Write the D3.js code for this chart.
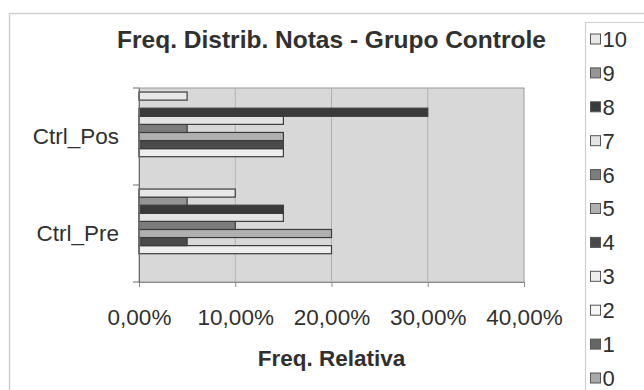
<!DOCTYPE html>
<html>
<head>
<meta charset="utf-8">
<script src="https://cdn.jsdelivr.net/npm/d3@7"></script>
<style>
  html, body { margin: 0; padding: 0; background: #fff; }
  svg { display: block; font-family: "Liberation Sans", Arial, sans-serif; }
</style>
</head>
<body>
<svg id="chart" width="644" height="390"></svg>
<script>
// Grades 0..10, one series per grade
const series = ["0", "1", "2", "3", "4", "5", "6", "7", "8", "9", "10"];
// Groups, top to bottom
const groups = ["Ctrl_Pos", "Ctrl_Pre"];
// Relative frequency of each grade, indexed like `series`
const ctrlPos = [0, 0, 0, 0.15, 0.15, 0.15, 0.05, 0.15, 0.30, 0, 0.05];
const ctrlPre = [0, 0, 0, 0.20, 0.05, 0.20, 0.10, 0.15, 0.15, 0.05, 0.10];
const xTicks = [0, 0.1, 0.2, 0.3, 0.4];
const seriesColors = ["#a9a9a9", "#666666", "#f6f6f6", "#eeeeee", "#4a4a4a",
                      "#b0b0b0", "#7c7c7c", "#e4e4e4", "#3a3a3a", "#959595", "#e8e8e8"];

const valuesByGroup = { "Ctrl_Pos": ctrlPos, "Ctrl_Pre": ctrlPre };

const svg = d3.select("#chart");
const plot = { left: 139, right: 524, top: 88, bottom: 282 };
const textColor = "#303030";
const fontSize = 22.5;

const ptBR = d3.formatLocale({ decimal: ",", thousands: ".", grouping: [3], currency: ["R$", ""] });
const pct = ptBR.format(".2%");

const x = d3.scaleLinear().domain([0, 0.4]).range([plot.left, plot.right]);
const y0 = d3.scaleBand().domain(groups).range([plot.top, plot.bottom]);
// Grade 10 at the top of each group, grade 0 at the bottom
const y1 = d3.scaleBand().domain(series.slice().reverse())
  .range([0, y0.bandwidth()]).paddingInner(0).paddingOuter(0.5);

// Chart area frame
svg.append("path")
  .attr("d", "M9.5,400 V13.5 H660")
  .attr("fill", "none").attr("stroke", "#cfcfcf").attr("stroke-width", 1.5);

// Plot area
svg.append("rect")
  .attr("x", plot.left).attr("y", plot.top)
  .attr("width", plot.right - plot.left).attr("height", plot.bottom - plot.top)
  .attr("fill", "#d8d8d8").attr("stroke", "#9a9a9a").attr("stroke-width", 1);

// Vertical gridlines
svg.append("g").selectAll("line")
  .data(xTicks.slice(1, -1))
  .join("line")
  .attr("x1", d => x(d)).attr("x2", d => x(d))
  .attr("y1", plot.top).attr("y2", plot.bottom)
  .attr("stroke", "#b2b2b2").attr("stroke-width", 1);

// Bars
const barData = groups.flatMap(g => series.map((s, i) => ({ group: g, series: s, idx: i, value: valuesByGroup[g][i] })))
  .filter(d => d.value > 0);

svg.append("g").selectAll("rect")
  .data(barData)
  .join("rect")
  .attr("x", x(0))
  .attr("y", d => y0(d.group) + y1(d.series))
  .attr("width", d => x(d.value) - x(0))
  .attr("height", y1.bandwidth())
  .attr("fill", d => seriesColors[d.idx])
  .attr("stroke", "#3c3c3c").attr("stroke-width", 1.2);

// Value axis
const xAxis = d3.axisBottom(x).tickValues(xTicks).tickFormat(pct).tickSize(5).tickPadding(22);
const gx = svg.append("g").attr("transform", `translate(0,${plot.bottom})`).call(xAxis);
gx.select(".domain").attr("stroke", "#8a8a8a");
gx.selectAll(".tick line").attr("stroke", "#8a8a8a");
gx.selectAll(".tick text").attr("fill", textColor).attr("font-size", fontSize);

// Category axis
const gy = svg.append("g").attr("transform", `translate(${plot.left},0)`)
  .call(d3.axisLeft(y0).tickSize(0).tickPadding(20));
gy.select(".domain").attr("stroke", "#6a6a6a");
gy.selectAll(".tick text").attr("fill", textColor).attr("font-size", fontSize);
// Category boundary ticks
gy.append("g").selectAll("line")
  .data([plot.top, plot.top + y0.step(), plot.bottom])
  .join("line")
  .attr("x1", -6).attr("x2", 0).attr("y1", d => d).attr("y2", d => d)
  .attr("stroke", "#6a6a6a");

// Titles
svg.append("text")
  .attr("x", (plot.left + plot.right) / 2).attr("y", 48)
  .attr("text-anchor", "middle").attr("font-size", 24.5).attr("font-weight", "bold")
  .attr("fill", textColor)
  .text("Freq. Distrib. Notas - Grupo Controle");

svg.append("text")
  .attr("x", (plot.left + plot.right) / 2).attr("y", 366)
  .attr("text-anchor", "middle").attr("font-size", fontSize).attr("font-weight", "bold")
  .attr("fill", textColor)
  .text("Freq. Relativa");

// Legend
const legend = svg.append("g");
legend.append("path")
  .attr("d", "M585.5,400 V22.5 H660")
  .attr("fill", "none").attr("stroke", "#d0d0d0").attr("stroke-width", 1.2);

const legendItems = legend.selectAll("g.item")
  .data(series.slice().reverse())
  .join("g").attr("class", "item")
  .attr("transform", (d, k) => `translate(590.5,${39 + k * 33.9})`);

legendItems.append("rect")
  .attr("x", 0).attr("y", -5).attr("width", 10).attr("height", 10)
  .attr("fill", d => seriesColors[series.indexOf(d)])
  .attr("stroke", "#555").attr("stroke-width", 1);

legendItems.append("text")
  .attr("x", 12).attr("y", 0).attr("dy", "0.36em")
  .attr("font-size", 22).attr("fill", textColor)
  .text(d => d);
</script>
</body>
</html>
